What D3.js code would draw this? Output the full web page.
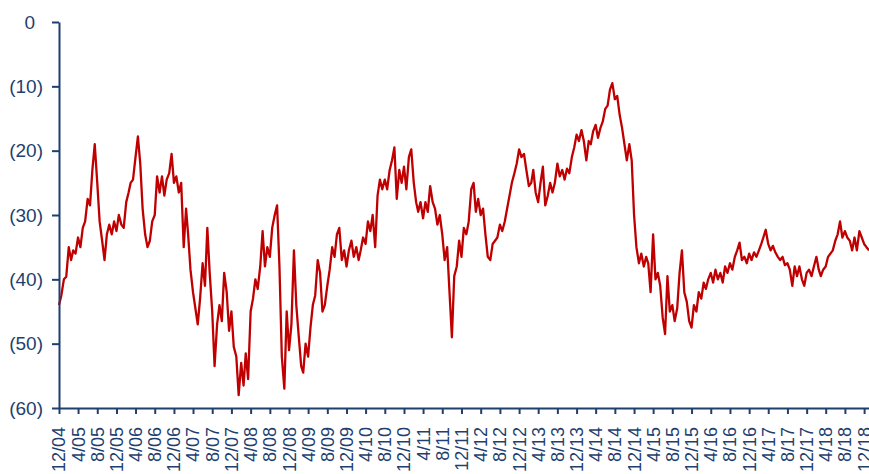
<!DOCTYPE html>
<html>
<head>
<meta charset="utf-8">
<script src="https://cdn.jsdelivr.net/npm/d3@7"></script>
<style>
  body { margin: 0; background: #fff; }
  svg { display: block; font-family: "Liberation Sans", Arial, sans-serif; }
</style>
</head>
<body>
<div id="chart-area"></div>
<script>
// semi-monthly readings (1st and 16th of each month), starting 1 Dec 2004
const START = new Date(2004, 11, 1)
const values = [
  -44, -42.5, -40, -39.6, -35, -37, -35.5, -36, -33.5, -35,
  -32, -31, -27.5, -28.5, -23, -19, -25, -31, -34, -37,
  -33, -31.5, -33, -31, -32.5, -30, -31.5, -32, -28, -26.5,
  -25, -24.5, -21, -17.8, -22, -29, -33, -35, -34, -31,
  -30, -24, -26.5, -24, -27, -24.5, -23.5, -20.5, -25, -24,
  -26.5, -25, -35, -29, -33, -38.5, -42, -44.5, -47, -43,
  -37.5, -41, -32, -39, -45, -53.5, -47, -44, -46.5, -39,
  -42, -48, -45, -50.5, -52, -58, -53, -56.5, -51.5, -55.5,
  -45, -43, -40, -41.5, -38, -32.5, -38, -35, -36.5, -32,
  -30, -28.5, -38, -52, -57, -45, -51, -47, -35.5, -44,
  -49, -53.5, -54.5, -50, -52, -47.5, -44, -42.5, -37, -39,
  -45, -44, -41, -38.5, -35, -36.5, -33, -32, -37, -35.5,
  -38, -35.5, -34, -36.5, -35, -37, -35.5, -33.5, -34.5, -31,
  -32.5, -30, -35, -27, -24.5, -26, -24.5, -26, -23, -21.5,
  -19.5, -27.5, -23, -25, -22.5, -26, -21, -19.8, -25, -28,
  -29.5, -28, -30.5, -28, -29.5, -25.5, -28, -29, -31.5, -30,
  -33, -37, -35, -42, -49, -39.5, -38, -34, -36.5, -32,
  -33, -31, -26, -25, -29.5, -27.5, -30, -29, -33, -36.5,
  -37, -34.5, -34, -33.5, -31.5, -32.5, -31, -29, -27, -25,
  -23.5, -22, -19.8, -21, -20.5, -23, -25.5, -25, -23, -26.5,
  -28, -25, -22.5, -28.5, -27, -25, -26.5, -25, -22, -24,
  -23, -24.5, -22.8, -23.5, -21, -19.5, -17.5, -18.5, -16.8, -18.5,
  -21.5, -18.5, -19, -17, -16, -18, -16.5, -15.5, -13.5, -13,
  -10.5, -9.5, -12, -11.5, -14.5, -16.5, -19, -21.5, -19, -21.5,
  -30, -35, -37.5, -36, -38, -36.5, -37.5, -42, -33, -40,
  -39, -41, -46, -48.5, -39.5, -45, -44, -46.5, -44.5, -39,
  -35.5, -42, -43.5, -46.5, -47.5, -44, -45, -42, -43, -40.5,
  -41.5, -40, -39, -40.5, -38.5, -40, -39, -40.5, -38, -39,
  -37.5, -38.5, -36.5, -35.5, -34.3, -37, -36.5, -37.5, -36, -37,
  -35.8, -36.5, -35.5, -34.5, -33.5, -32.3, -34.5, -35.5, -34.8, -35.8,
  -36.5, -37, -36.5, -37.8, -37.5, -38.5, -41, -38, -39.5, -38,
  -40, -41, -39, -38.5, -39.5, -38, -36.5, -38.5, -39.5, -38.5,
  -38, -36.5, -36, -35.5, -34, -33, -31, -33.5, -32.5, -33.5,
  -34, -35.5, -33.5, -35.5, -32.5, -33.5, -34.5, -35, -35.5
]

const yTicks = [0, -10, -20, -30, -40, -50, -60]
const xTickLabels = [
  '12/04', '4/05', '8/05', '12/05', '4/06', '8/06', '12/06', '4/07', '8/07',
  '12/07', '4/08', '8/08', '12/08', '4/09', '8/09', '12/09', '4/10', '8/10',
  '12/10', '4/11', '8/11', '12/11', '4/12', '8/12', '12/12', '4/13', '8/13',
  '12/13', '4/14', '8/14', '12/14', '4/15', '8/15', '12/15', '4/16', '8/16',
  '12/16', '4/17', '8/17', '12/17', '4/18', '8/18', '12/18'
]

const WIDTH = 869
const HEIGHT = 474
const AXIS_COLOR = '#1f3f6f'

const data = values.map((v, i) => ({
  date: new Date(2004, 11 + Math.floor(i / 2), i % 2 === 0 ? 1 : 16),
  value: v
}))

const parseTick = d3.timeParse('%m/%y')
const tickDates = xTickLabels.map(s => parseTick(s))

const svg = d3.select('#chart-area').append('svg')
  .attr('width', WIDTH)
  .attr('height', HEIGHT)

const x = d3.scaleTime()
  .domain([START, new Date(2019, 0, 1)])
  .range([59, 869])

const y = d3.scaleLinear()
  .domain([-60, 0])
  .range([408, 22])

// line
const line = d3.line()
  .x(d => x(d.date))
  .y(d => y(d.value))

svg.append('path')
  .datum(data)
  .attr('fill', 'none')
  .attr('stroke', '#c00000')
  .attr('stroke-width', 2.3)
  .attr('stroke-linejoin', 'round')
  .attr('d', line)

// y axis
const yAxis = svg.append('g')
  .attr('transform', 'translate(59,0)')
  .call(d3.axisLeft(y)
    .tickValues(yTicks)
    .tickSize(7)
    .tickSizeOuter(0)
    .tickPadding(9)
    .tickFormat(d => d === 0 ? '0' : `(${-d})`))

yAxis.selectAll('text')
  .attr('font-size', '19px')
  .attr('fill', AXIS_COLOR)
  .attr('dx', d => d === 0 ? -8 : 0)

// x axis
const xAxis = svg.append('g')
  .attr('transform', 'translate(0,408)')
  .call(d3.axisBottom(x)
    .tickValues(tickDates)
    .tickSize(6)
    .tickSizeOuter(0)
    .tickFormat((d, i) => xTickLabels[i]))

xAxis.selectAll('text')
  .attr('font-size', '18px')
  .attr('fill', AXIS_COLOR)
  .attr('transform', 'rotate(-90)')
  .attr('text-anchor', 'end')
  .attr('x', -19)
  .attr('y', 0)
  .attr('dy', '0.33em')

svg.selectAll('.domain, .tick line')
  .attr('stroke', AXIS_COLOR)
  .attr('stroke-width', 2)
</script>
</body>
</html>
